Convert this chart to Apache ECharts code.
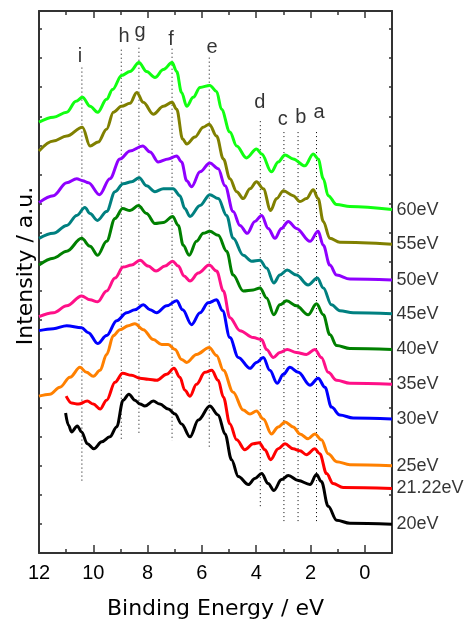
<!DOCTYPE html>
<html>
<head>
<meta charset="utf-8">
<script src="https://cdn.jsdelivr.net/npm/echarts@6/dist/echarts.min.js"></script>
<style>
html, body { margin: 0; padding: 0; background: #fff; }
#chart { width: 467px; height: 625px; }
</style>
</head>
<body>
<div id="chart"></div>
<script>
// photon energies, top to bottom
const spectrumNames = ['60eV', '55eV', '50eV', '45eV', '40eV', '35eV', '30eV', '25eV', '21.22eV', '20eV'];
const spectrumColors = ['#11ff11', '#808000', '#8f00ff', '#008080', '#008000', '#ff1088', '#0000ff', '#ff8000', '#ff0000', '#000000'];

// [binding energy (eV), intensity (a.u., offset)]
const spec60 = [[12,434],[11.47,439],[10.98,444],[10.64,455],[10.4,459],[10.12,450],[9.84,444],[9.51,457],[9.29,467],[8.96,481],[8.65,485],[8.32,494],[8.04,485],[7.73,479],[7.42,487],[7.1,494],[6.93,485],[6.75,464],[6.56,450],[6.32,459],[6.07,469],[5.71,471],[5.46,465],[5.28,447],[4.97,424],[4.72,410],[4.36,398],[3.99,407],[3.8,402],[3.44,384],[3.19,394],[2.94,401],[2.64,397],[2.21,390],[1.9,402],[1.72,397],[1.53,377],[1.35,360],[1.04,351],[0.55,349],[-1,346]];
const spec55 = [[12,405],[11.47,415],[10.98,420],[10.4,429],[10.12,410],[9.82,414],[9.51,427],[9.26,444],[8.96,450],[8.65,453],[8.4,464],[8.16,454],[7.79,442],[7.42,450],[7.1,454],[6.93,447],[6.71,417],[6.56,412],[6.26,419],[5.95,429],[5.73,432],[5.46,420],[5.21,397],[4.97,377],[4.72,364],[4.48,357],[4.23,367],[3.99,374],[3.74,367],[3.47,345],[3.25,357],[3.0,365],[2.64,360],[2.39,354],[2.15,357],[1.9,366],[1.72,357],[1.53,334],[1.29,317],[0.92,313],[-1,311]];
const spec50 = [[12,353],[11.47,360],[10.98,373],[10.61,377],[10.39,375],[10.18,373],[9.77,361],[9.39,377],[9.02,397],[8.65,405],[8.18,410],[7.91,404],[7.61,394],[7.24,397],[6.93,400],[6.75,394],[6.56,375],[6.38,369],[6.07,384],[5.71,393],[5.4,387],[5.15,370],[4.85,344],[4.6,330],[4.33,322],[4.05,334],[3.8,340],[3.56,327],[3.31,317],[3.07,327],[2.82,334],[2.52,327],[2.02,314],[1.72,324],[1.53,310],[1.29,290],[1.04,280],[0.55,276],[-1,275]];
const spec45 = [[12,317],[11.47,322],[10.98,330],[10.61,340],[10.31,348],[10.12,342],[9.85,335],[9.51,344],[9.2,364],[8.9,372],[8.59,374],[8.31,378],[8.04,370],[7.73,364],[7.42,367],[7.06,367],[6.81,360],[6.63,347],[6.44,339],[6.07,350],[5.71,361],[5.4,357],[5.09,340],[4.85,317],[4.48,300],[4.17,294],[3.86,295],[3.62,287],[3.35,272],[3.13,280],[2.86,285],[2.52,280],[2.09,270],[1.75,277],[1.53,267],[1.23,250],[0.92,244],[0.43,242],[-1,241]];
const spec40 = [[12,290],[11.47,297],[10.98,304],[10.43,317],[10.12,309],[9.84,300],[9.51,314],[9.2,337],[8.92,347],[8.65,345],[8.34,350],[8.04,342],[7.73,332],[7.42,333],[7.08,339],[6.87,330],[6.69,310],[6.47,300],[6.2,314],[5.95,322],[5.71,324],[5.4,320],[5.09,304],[4.85,280],[4.48,264],[4.11,265],[3.86,267],[3.62,257],[3.35,240],[3.13,250],[2.88,254],[2.52,249],[2.09,240],[1.78,251],[1.53,240],[1.29,220],[1.04,209],[0.55,206],[-1,205]];
const spec35 = [[12,238],[11.47,242],[10.98,249],[10.43,259],[10.12,255],[9.84,253],[9.51,264],[9.2,277],[8.9,288],[8.59,290],[8.28,295],[7.98,289],[7.69,284],[7.36,289],[7.08,294],[6.87,289],[6.66,279],[6.44,274],[6.13,282],[5.73,290],[5.46,284],[5.21,264],[4.97,237],[4.6,224],[4.11,217],[3.8,215],[3.62,205],[3.37,197],[3.13,202],[2.86,205],[2.52,202],[2.15,200],[1.84,205],[1.6,197],[1.35,182],[1.04,174],[0.55,171],[-1,170]];
const spec30 = [[12,224],[11.47,226],[10.98,229],[10.43,227],[10.18,222],[9.84,211],[9.51,219],[9.14,234],[8.77,242],[8.47,245],[8.16,250],[7.91,245],[7.67,242],[7.3,249],[6.93,254],[6.71,245],[6.38,230],[6.07,242],[5.77,252],[5.46,255],[5.24,244],[4.97,217],[4.66,197],[4.23,186],[3.99,192],[3.74,197],[3.5,184],[3.23,171],[3.0,180],[2.76,187],[2.45,182],[2.02,169],[1.72,176],[1.47,167],[1.23,147],[0.92,139],[0.43,136],[-1,135]];
const spec25 = [[12,158],[11.6,160],[11.23,167],[10.86,177],[10.49,187],[10.25,182],[10.0,178],[9.75,184],[9.51,200],[9.26,219],[9.02,225],[8.71,229],[8.47,231],[8.16,225],[7.79,215],[7.48,210],[7.24,210],[6.99,205],[6.75,195],[6.56,192],[6.2,200],[5.73,207],[5.46,199],[5.21,184],[4.85,162],[4.48,144],[4.23,140],[3.99,143],[3.74,135],[3.44,120],[3.19,127],[2.94,132],[2.64,127],[2.39,120],[2.09,115],[1.84,120],[1.6,114],[1.35,100],[1.04,92],[0.55,89],[-1,88]];
const spec21 = [[11.0,158],[10.8,151],[10.55,150],[10.22,153],[10.0,150],[9.75,145],[9.51,154],[9.2,172],[8.92,181],[8.59,179],[8.28,176],[7.98,175],[7.67,174],[7.3,180],[7.03,186],[6.81,177],[6.63,164],[6.44,158],[6.2,170],[5.89,182],[5.64,184],[5.4,174],[5.21,157],[4.97,130],[4.72,114],[4.42,104],[4.11,110],[3.89,111],[3.68,104],[3.47,94],[3.19,105],[2.94,110],[2.64,105],[2.39,103],[2.15,99],[1.84,105],[1.66,100],[1.41,80],[1.17,70],[0.8,66],[-1,65]];
const spec20 = [[11.02,141],[10.92,129],[10.8,122],[10.59,128],[10.43,122],[10.22,110],[9.98,105],[9.69,112],[9.39,117],[9.14,127],[8.9,154],[8.69,160],[8.47,154],[8.28,150],[8.1,148],[7.79,153],[7.55,150],[7.24,145],[6.99,140],[6.75,130],[6.44,117],[6.13,134],[5.71,148],[5.4,139],[5.15,120],[4.91,94],[4.66,77],[4.29,69],[4.05,75],[3.8,80],[3.56,70],[3.35,63],[3.07,74],[2.82,78],[2.45,73],[2.02,69],[1.78,79],[1.6,72],[1.35,47],[1.04,33],[0.55,30],[-1,29]];
const spectra = [spec60, spec55, spec50, spec45, spec40, spec35, spec30, spec25, spec21, spec20];

// peak markers a-i
const peakNames = ['i', 'h', 'g', 'f', 'e', 'd', 'c', 'b', 'a'];
const peakEnergy = [10.42, 8.97, 8.32, 7.1, 5.73, 3.85, 2.98, 2.46, 1.78];
const peakLineTop = [489, 507, 509, 508, 499, 435, 424, 424, 424];
const peakLineBottom = [70, 115, 120, 113, 106, 46, 31, 31, 32];
const peakLabelEnergy = [10.49, 8.87, 8.28, 7.14, 5.63, 3.87, 3.02, 2.36, 1.69];
const peakLabelLevel = [500, 520, 525, 517, 509, 454, 437, 439, 444];

// axis ticks
const majorTicks = [12, 10, 8, 6, 4, 2, 0];
const minorTicks = [11, 9, 7, 5, 3, 1];

const chart = echarts.init(document.getElementById('chart'));

function energyAxis(position, ticks, tickLen, main) {
    return {
        type: 'value',
        min: -1,
        max: 12,
        inverse: true,
        position: position,
        axisLine: { show: main, onZero: false, lineStyle: { color: '#333', width: 2 } },
        axisTick: { show: true, inside: true, length: tickLen, customValues: ticks,
                    lineStyle: { color: '#333', width: 1.5 } },
        axisLabel: { show: main && position === 'bottom', customValues: ticks,
                     fontSize: 20, fontFamily: 'Liberation Sans', color: '#000', margin: 10 },
        splitLine: { show: false }
    };
}

function intensityAxis(position) {
    return {
        type: 'value',
        min: 0,
        max: 546,
        interval: 29.33,
        position: position,
        axisLine: { show: true, onZero: false, lineStyle: { color: '#333', width: 2 } },
        axisTick: { show: true, inside: true, length: 3, lineStyle: { color: '#333', width: 1.5 } },
        axisLabel: { show: false },
        splitLine: { show: false }
    };
}

const xMain = energyAxis('bottom', majorTicks, 8, true);
xMain.name = 'Binding Energy / eV';
xMain.nameLocation = 'middle';
xMain.nameGap = 45;
xMain.nameTextStyle = { fontSize: 22, fontFamily: 'DejaVu Sans', color: '#000' };

const spectrumSeries = spectra.map((d, k) => ({
    name: spectrumNames[k],
    type: 'line',
    data: d,
    symbol: 'none',
    smooth: 0.35,
    smoothMonotone: 'x',
    lineStyle: { color: spectrumColors[k], width: 3 },
    itemStyle: { color: spectrumColors[k] },
    z: 3
}));

// photon energy labels, at the low-energy end of each spectrum
const endLabelSeries = {
    name: 'photon energy',
    type: 'scatter',
    symbolSize: 1,
    silent: true,
    itemStyle: { color: 'rgba(0,0,0,0)' },
    data: spectra.map((d, k) => ({ name: spectrumNames[k], value: d[d.length - 1] })),
    label: { show: true, position: 'right', distance: 4, formatter: '{b}', color: '#000',
             fontSize: 18, fontFamily: 'Liberation Sans' },
    z: 4
};

const peakLineSeries = peakNames.map((p, i) => ({
    name: 'peak ' + p,
    type: 'line',
    data: [[peakEnergy[i], peakLineTop[i]], [peakEnergy[i], peakLineBottom[i]]],
    symbol: 'none',
    silent: true,
    lineStyle: { color: '#000', width: 1, type: [1, 3] },
    z: 1
}));

const peakLabelSeries = {
    name: 'peak labels',
    type: 'scatter',
    symbolSize: 1,
    silent: true,
    itemStyle: { color: 'rgba(0,0,0,0)' },
    data: peakNames.map((p, i) => ({ name: p, value: [peakLabelEnergy[i], peakLabelLevel[i]] })),
    label: { show: true, position: 'inside', formatter: '{b}', color: '#000',
             fontSize: 20, fontFamily: 'Liberation Sans' },
    z: 4
};

chart.setOption({
    animation: false,
    backgroundColor: '#fff',
    grid: { left: 39, right: 75, top: 11, bottom: 68, containLabel: false },
    xAxis: [
        xMain,
        energyAxis('bottom', minorTicks, 4, false),
        energyAxis('top', majorTicks, 7, true),
        energyAxis('top', minorTicks, 4, false)
    ],
    yAxis: [intensityAxis('left'), intensityAxis('right')],
    graphic: [{
        type: 'text',
        x: 26,
        y: 266,
        rotation: Math.PI / 2,
        style: { text: 'Intensity / a.u.', fontSize: 22, fontFamily: 'DejaVu Sans',
                 fill: '#000', align: 'center', verticalAlign: 'middle' }
    }],
    series: spectrumSeries.concat(peakLineSeries, [endLabelSeries, peakLabelSeries])
});
</script>
</body>
</html>
